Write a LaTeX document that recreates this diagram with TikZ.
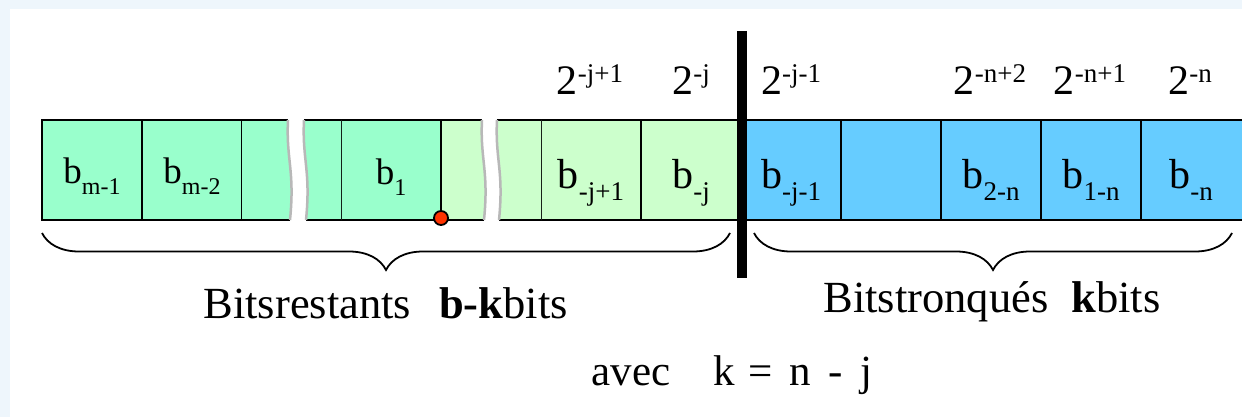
\documentclass[tikz,border=0pt]{standalone}
\usepackage{fontspec}
\setmainfont{Liberation Serif}
\usepackage{tikz}
\usetikzlibrary{positioning,decorations.pathreplacing}
\definecolor{hiGreen}{HTML}{99FFCC}
\definecolor{loGreen}{HTML}{CCFFCC}
\definecolor{truncBlue}{HTML}{66CCFF}
\definecolor{dotRed}{HTML}{FF3300}
\definecolor{frameBlue}{HTML}{EEF6FC}
\newcommand{\subsz}{27}
\newcommand{\bsub}[1]{b\raisebox{-0.3em}{\fontsize{\subsz}{\subsz}\selectfont #1}}
\newcommand{\pw}[1]{2\raisebox{0.3em}{\fontsize{27}{27}\selectfont #1}}
\newcommand{\brkedge}[1]{(#1,120) .. controls (#1-2,160) and (#1+7,170) .. (#1+2,220)}

\begin{document}
\begin{tikzpicture}[x=1pt, y=-1pt,
  bitcell/.style={draw, line width=2pt, minimum width=100pt, minimum height=100pt, inner sep=0pt, outer sep=0pt},
  hibit/.style={bitcell, fill=hiGreen, font=\fontsize{37}{42}\selectfont\def\subsz{24}, text height=31pt, text depth=4pt},
  lobit/.style={bitcell, fill=loGreen, font=\fontsize{42}{48}\selectfont, text height=38pt, text depth=2pt},
  cutbit/.style={bitcell, fill=truncBlue, font=\fontsize{42}{48}\selectfont, text height=38pt, text depth=2pt},
  weight/.style={anchor=base, font=\fontsize{42}{46}\selectfont},
  bar/.style={line width=2pt},
  brkline/.style={line width=2.5pt, color=black!28},
  brace/.style={decorate, decoration={brace, mirror, amplitude=37pt}, line width=1.8pt},
  caption/.style={anchor=base west, font=\fontsize{44.5}{50}\selectfont}
]
  \useasboundingbox (0,0) rectangle (1242,417);
  \fill[frameBlue] (0,0) rectangle (1242,417);
  \fill[white] (10,9) rectangle (1242,417);

  \node[hibit, anchor=north west] (bm1) at (42,120) {\bsub{m-1}};
  \node[hibit, right=0pt of bm1] (bm2) {\bsub{m-2}};
  \node[hibit, anchor=north west, text height=33pt] (b1) at (341,120) {\bsub{1}};
  \node[lobit, anchor=north west] (bj1) at (541,120) {\bsub{-j+1}};
  \node[lobit, right=0pt of bj1] (bj) {\bsub{-j}};
  \node[cutbit, right=0pt of bj] (bjm1) {\bsub{-j-1}};
  \node[cutbit, right=0pt of bjm1] (bdots) {};
  \node[cutbit, right=0pt of bdots] (b2n) {\bsub{2-n}};
  \node[cutbit, right=0pt of b2n] (b1n) {\bsub{1-n}};
  \node[cutbit, right=0pt of b1n, minimum width=110pt] (bn) {\hspace*{-10pt}\bsub{-n}};

  \fill[hiGreen] (242,120) -- \brkedge{288} -- (242,220) -- cycle;
  \fill[hiGreen] \brkedge{304} -- (341,220) -- (341,120) -- cycle;
  \fill[loGreen] (441,120) -- \brkedge{482} -- (441,220) -- cycle;
  \fill[loGreen] \brkedge{497} -- (541,220) -- (541,120) -- cycle;
  \draw[bar] (242,120) -- (288,120) (242,220) -- (290,220)
             (304,120) -- (341,120) (306,220) -- (341,220)
             (441,120) -- (482,120) (441,220) -- (484,220)
             (497,120) -- (541,120) (499,220) -- (541,220);
  \draw[brkline] \brkedge{288} \brkedge{304} \brkedge{482} \brkedge{497};
  \draw[bar] (b1.north east) -- (b1.south east);
  \node[circle, draw, line width=1.8pt, fill=dotRed, minimum size=14pt, inner sep=0pt] (point) at ([yshift=2pt]b1.south east) {};

  \draw[line width=10pt] (742,31) -- (742,278);

  \node[weight] (wj1) at (590,95) {\pw{-j+1}};
  \node[weight] (wj) at (691,95) {\pw{-j}};
  \node[weight] (wjm1) at (791,95) {\pw{-j-1}};
  \node[weight] (wn2) at (990,95) {\pw{-n+2}};
  \node[weight] (wn1) at (1090,95) {\pw{-n+1}};
  \node[weight] (wn) at (1190,95) {\pw{-n}};

  \coordinate (restL) at (42,233);
  \coordinate (restR) at (730,233);
  \coordinate (truncL) at (754,233);
  \coordinate (truncR) at (1232,233);
  \draw[brace] (restL) -- (restR);
  \draw[brace] (truncL) -- (truncR);
  \node[caption] (rest) at (200,318) {Bitsrestants\hspace{28pt}\textbf{b-k}bits};
  \node[caption] (trunc) at (820,312) {Bitstronqués\hspace{23pt}\textbf{k}bits};
  \node[caption, font=\fontsize{43}{48}\selectfont] (avec) at (588,385) {avec\hspace{43pt}k\hspace{14pt}=\hspace{16pt}n\hspace{18pt}-\hspace{18pt}j};
\end{tikzpicture}
\end{document}
